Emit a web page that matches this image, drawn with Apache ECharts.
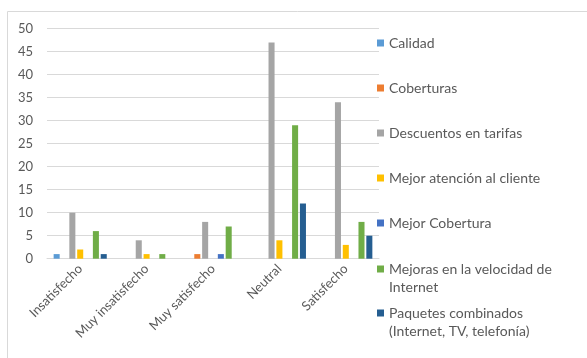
<!DOCTYPE html>
<html>
<head>
<meta charset="utf-8">
<script src="https://cdn.jsdelivr.net/npm/echarts@6/dist/echarts.min.js"></script>
<style>
  html, body { margin: 0; padding: 0; background: #fff; }
  #chart { width: 587px; height: 358px; }
</style>
</head>
<body>
<div id="chart"></div>
<script>
// Satisfaction levels along the x axis
const categories = ['Insatisfecho', 'Muy insatisfecho', 'Muy satisfecho', 'Neutral', 'Satisfecho'];

// Improvement requested, one array per series (counts per satisfaction level)
const seriesNames = [
  'Calidad',
  'Coberturas',
  'Descuentos en tarifas',
  'Mejor atención al cliente',
  'Mejor Cobertura',
  'Mejoras en la velocidad de Internet',
  'Paquetes combinados (Internet, TV, telefonía)'
];
const calidad        = [1, 0, 0, 0, 0];
const coberturas     = [0, 0, 1, 0, 0];
const descuentos     = [10, 4, 8, 47, 34];
const mejorAtencion  = [2, 1, 0, 4, 3];
const mejorCobertura = [0, 0, 1, 0, 0];
const velocidad      = [6, 1, 7, 29, 8];
const paquetes       = [1, 0, 0, 12, 5];
const seriesValues = [calidad, coberturas, descuentos, mejorAtencion, mejorCobertura, velocidad, paquetes];

// Legend text: first line beside the swatch, optional wrapped second line
const legendFirstLines = [
  'Calidad',
  'Coberturas',
  'Descuentos en tarifas',
  'Mejor atención al cliente',
  'Mejor Cobertura',
  'Mejoras en la velocidad de',
  'Paquetes combinados'
];
const legendSecondLines = ['', '', '', '', '', 'Internet', '(Internet, TV, telefonía)'];

// Y axis ticks
const yTicks = { min: 0, max: 50, interval: 5 };

const colors = ['#5B9BD5', '#ED7D31', '#A5A5A5', '#FFC000', '#4472C4', '#70AD47', '#255E91'];
const textColor = '#595959';
const font = 'Lato, "Open Sans", sans-serif';
const legendFontSize = 14;
const legendLineHeight = 18;

// Vertical centre of each legend entry's first line
const legendLineCenters = [43, 88, 133, 178, 223, 269, 313];
const legendLeft = 377;
const legendTextLeft = legendLeft + 7 + 5;

const chart = echarts.init(document.getElementById('chart'), null, { renderer: 'canvas' });

const graphics = [{
  type: 'rect',
  shape: { x: 7.5, y: 11.5, width: 700, height: 400 },
  style: { fill: 'none', stroke: '#d9d9d9', lineWidth: 1 },
  silent: true
}];
legendSecondLines.forEach((txt, i) => {
  if (!txt) return;
  graphics.push({
    type: 'text',
    left: legendTextLeft,
    top: legendLineCenters[i] + legendLineHeight - legendLineHeight / 2,
    silent: true,
    style: {
      text: txt,
      fill: textColor,
      font: legendFontSize + 'px ' + font,
      lineHeight: legendLineHeight,
      height: legendLineHeight,
      verticalAlign: 'top'
    }
  });
});

chart.setOption({
  animation: false,
  color: colors,
  textStyle: { fontFamily: font },
  graphic: graphics,
  grid: { left: 47, right: 208, top: 28.7, bottom: 99.3, containLabel: false },
  legend: seriesNames.map((name, i) => ({
    data: [name],
    left: legendLeft,
    top: legendLineCenters[i] - legendLineHeight / 2,
    padding: 0,
    orient: 'vertical',
    icon: 'rect',
    itemWidth: 7,
    itemHeight: 7,
    selectedMode: false,
    formatter: () => legendFirstLines[i],
    textStyle: { color: textColor, fontSize: legendFontSize, lineHeight: legendLineHeight, fontFamily: font }
  })),
  xAxis: {
    type: 'category',
    data: categories,
    axisLine: { lineStyle: { color: '#d9d9d9', width: 1 } },
    axisTick: { show: false },
    axisLabel: { rotate: 45, color: textColor, fontSize: 13, fontFamily: font, margin: 8, interval: 0 }
  },
  yAxis: {
    type: 'value',
    min: yTicks.min,
    max: yTicks.max,
    interval: yTicks.interval,
    axisLine: { show: false },
    axisTick: { show: false },
    axisLabel: { color: textColor, fontSize: 13, fontFamily: font, margin: 14 },
    splitLine: { lineStyle: { color: '#d9d9d9', width: 1 } }
  },
  series: seriesNames.map((name, i) => ({
    name: name,
    type: 'bar',
    data: seriesValues[i],
    barGap: '30%',
    barCategoryGap: '20%',
    itemStyle: { color: colors[i] }
  }))
});
</script>
</body>
</html>
